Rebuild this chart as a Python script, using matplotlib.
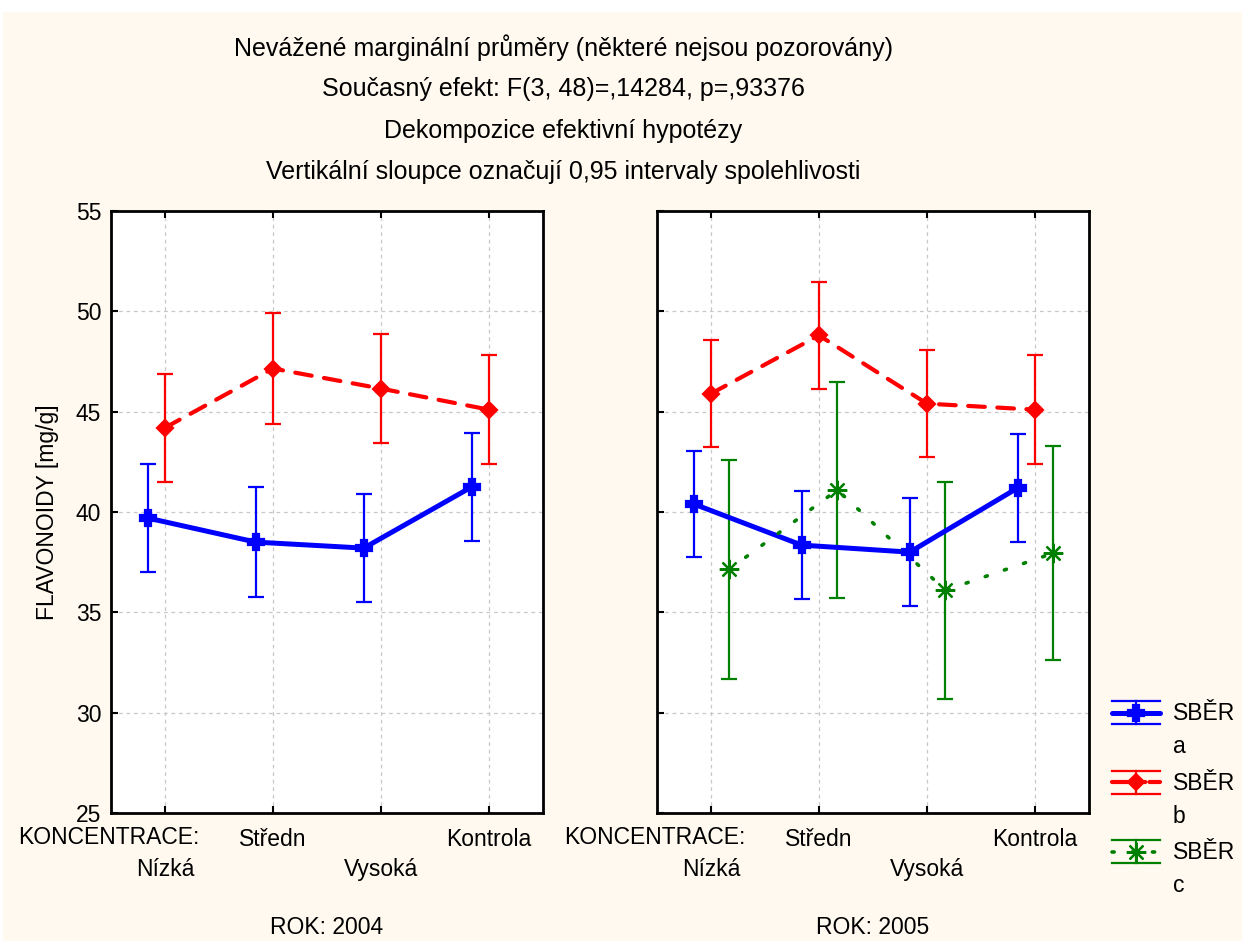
import numpy as np
import matplotlib as mpl
mpl.use('Agg')
import matplotlib.pyplot as plt
from matplotlib.lines import Line2D
from matplotlib.patches import Rectangle
from matplotlib.legend_handler import HandlerBase
from matplotlib.transforms import blended_transform_factory

plt.rcParams['font.family'] = ['Liberation Sans', 'DejaVu Sans']

# data
categories = ['Nízká', 'Středn', 'Vysoká', 'Kontrola']

a_2004 = [39.7, 38.5, 38.2, 41.25]
a_2004_ci = [2.7, 2.75, 2.7, 2.7]
b_2004 = [44.2, 47.15, 46.15, 45.1]
b_2004_ci = [2.7, 2.75, 2.7, 2.7]

a_2005 = [40.4, 38.35, 38.0, 41.2]
a_2005_ci = [2.65, 2.7, 2.7, 2.7]
b_2005 = [45.9, 48.8, 45.4, 45.1]
b_2005_ci = [2.65, 2.65, 2.65, 2.7]
c_2005 = [37.15, 41.1, 36.1, 37.95]
c_2005_ci = [5.45, 5.4, 5.4, 5.35]

years = ['2004', '2005']
title_lines = [
    'Nevážené marginální průměry (některé nejsou pozorovány)',
    'Současný efekt: F(3, 48)=,14284, p=,93376',
    'Dekompozice efektivní hypotézy',
    'Vertikální sloupce označují 0,95 intervaly spolehlivosti',
]

BLUE, RED, GREEN = '#0000ff', '#ff0000', '#008000'
styles = {
    'a': dict(color=BLUE, marker='P', ms=12, lw=3.6, dashes=None, off=-0.16),
    'b': dict(color=RED, marker='D', ms=8.5, lw=3.0, dashes=(4, 3), off=0.0),
    'c': dict(color=GREEN, marker=(8, 2, 0), ms=14, lw=2.6, dashes=(0.6, 5), off=0.17),
}
FS = 16.5

fig = plt.figure(figsize=(12.42, 9.41), dpi=100, facecolor='white')
fig.patches.append(Rectangle((3 / 1242, 0), 1, 1 - 12 / 941, transform=fig.transFigure,
                             facecolor='#fff9ef', edgecolor='none', zorder=-10))

ax1 = fig.add_axes([111 / 1242, 128 / 941, 432 / 1242, 602 / 941])
ax2 = fig.add_axes([657 / 1242, 128 / 941, 432 / 1242, 602 / 941])

x = np.arange(len(categories)) + 0.5


def draw(ax, key, means, ci):
    st = styles[key]
    xs = x + st['off']
    ax.errorbar(xs, means, yerr=ci, fmt='none', ecolor=st['color'], elinewidth=1.6,
                capsize=5.5, capthick=1.6, zorder=3)
    ln, = ax.plot(xs, means, color=st['color'], lw=st['lw'], zorder=4,
                  solid_capstyle='round', dash_capstyle='round')
    if st['dashes']:
        ln.set_dashes(st['dashes'])
    ax.plot(xs, means, ls='none', marker=st['marker'], ms=st['ms'], color=st['color'],
            mec=st['color'], mew=1.6, zorder=5)


draw(ax1, 'a', a_2004, a_2004_ci)
draw(ax1, 'b', b_2004, b_2004_ci)
draw(ax2, 'a', a_2005, a_2005_ci)
draw(ax2, 'b', b_2005, b_2005_ci)
draw(ax2, 'c', c_2005, c_2005_ci)

# staggered category labels: upper row on major ticks, lower row on minor ticks
for ax, yr in zip([ax1, ax2], years):
    ax.set_xlim(0, 4)
    ax.set_ylim(25, 55)
    ax.set_yticks(np.arange(25, 56, 5))
    ax.set_xticks(x[1::2])
    ax.set_xticklabels(categories[1::2], fontsize=FS)
    ax.set_xticks(x[0::2], minor=True)
    ax.set_xticklabels(categories[0::2], minor=True, fontsize=FS)
    ax.tick_params(axis='x', which='major', direction='in', length=5, width=1.5, top=True,
                   pad=11, labelsize=FS)
    ax.tick_params(axis='x', which='minor', direction='in', length=5, width=1.5, top=True,
                   pad=32.5, labelsize=FS)
    ax.tick_params(axis='y', direction='in', length=5, width=1.5, pad=7, labelsize=FS)
    ax.grid(True, which='both', color='#c8c8c8', ls=(0, (3, 3)), lw=0.9)
    for s in ax.spines.values():
        s.set_linewidth(2)
    ax.set_xlabel('ROK: ' + yr, fontsize=FS, labelpad=25)
    tr = blended_transform_factory(ax.transData, ax.transAxes)
    ax.text(0.82, -25 / 602, 'KONCENTRACE:', transform=tr, ha='right', va='center',
            fontsize=FS)
ax2.tick_params(labelleft=False)
ax1.set_ylabel('FLAVONOIDY [mg/g]', fontsize=FS, labelpad=12)

for i, t in enumerate(title_lines):
    fig.text(563 / 1242, 1 - (48 + 41.3 * i) / 941, t, ha='center', va='center', fontsize=18)


class ErrHandler(HandlerBase):
    def create_artists(self, legend, orig_handle, xdescent, ydescent, width, height,
                       fontsize, trans):
        st = styles[orig_handle.get_label()]
        yc = height / 2 - ydescent + fontsize * 0.8
        x0, x1 = -xdescent, width - xdescent
        xm = (x0 + x1) / 2
        h = fontsize * 0.5
        arts = []
        ln = Line2D([x0, x1], [yc, yc], color=st['color'], lw=st['lw'],
                    solid_capstyle='round', dash_capstyle='round')
        if st['dashes']:
            ln.set_dashes((0.6, 5) if st['dashes'][0] < 1 else (8, 1))
        arts.append(ln)
        arts.append(Line2D([xm], [yc], ls='none', marker=st['marker'], ms=st['ms'],
                           color=st['color'], mew=1.6))
        arts.append(Line2D([xm, xm], [yc - h, yc + h], color=st['color'], lw=1.6))
        for yy in (yc - h, yc + h):
            arts.append(Line2D([x0, x1], [yy, yy], color=st['color'], lw=1.6))
        for a in arts:
            a.set_transform(trans)
        return arts


proxies = [Line2D([], [], label=k) for k in ['a', 'b', 'c']]
fig.legend(proxies, ['SBĚR\n' + k for k in ['a', 'b', 'c']],
           handler_map={Line2D: ErrHandler()}, loc='upper left',
           bbox_to_anchor=(1112 / 1242, 1 - 702 / 941), frameon=False, fontsize=FS,
           handlelength=2.1, handletextpad=0.55, labelspacing=0.6, borderpad=0,
           borderaxespad=0)
for t in fig.legends[0].get_texts():
    t.set_linespacing(1.55)

fig.savefig('out.png', dpi=100, facecolor=fig.get_facecolor())
